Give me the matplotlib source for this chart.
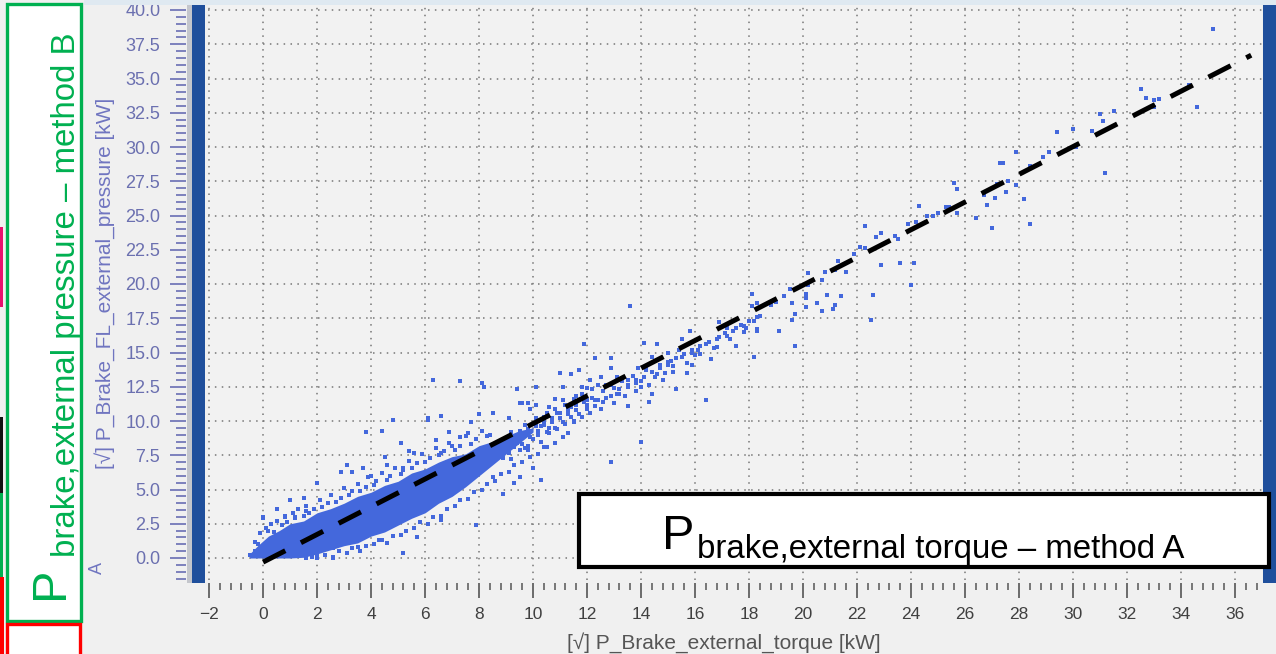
import matplotlib
matplotlib.use("Agg")
import matplotlib.pyplot as plt
from matplotlib.patches import Rectangle
from matplotlib.ticker import MultipleLocator, FormatStrFormatter
import numpy as np

plt.rcParams['font.family'] = ['Liberation Sans', 'DejaVu Sans']

# dense core of the cloud (envelope)
core_x = [-0.5, -0.2, 0.2, 0.6, 1.0, 1.5, 2.0, 2.5, 3.0, 3.5, 4.0, 4.5, 5.0, 5.5, 6.0, 6.5,
          7.0, 7.5, 8.0, 8.5, 9.0, 9.5, 10.0]
core_hi = [0.3, 0.9, 1.6, 2.0, 2.5, 2.7, 3.3, 3.6, 4.0, 4.5, 4.8, 5.3, 5.6, 6.2, 6.5, 7.0,
           7.4, 7.6, 8.2, 8.5, 8.9, 9.3, 9.5]
core_lo = [0.0, 0.0, 0.0, 0.0, 0.0, 0.05, 0.3, 0.6, 0.9, 1.1, 1.6, 1.9, 2.4, 2.9, 3.3, 4.0,
           4.5, 5.2, 6.0, 6.8, 7.6, 8.4, 9.2]

# scattered points
pts_x = [35.2, 33.0, 33.0, 33.2, 34.3, 34.6, 32.5, 32.7, 31.0, 31.5, 31.1, 31.2, 30.7, 30.0,
         30.1, 29.4, 29.1, 28.9, 28.4, 27.9, 27.4, 27.3, 27.6, 27.9, 27.5, 27.2, 27.1, 28.2,
         28.4, 26.7, 26.8, 26.4, 27.0, 25.6, 25.7, 25.4, 25.7, 25.3, 25.0, 24.8, 24.6, 24.3,
         24.2, 23.9, 23.4, 23.5, 22.9, 22.7, 22.3, 22.3, 22.1, 21.9, 23.6, 24.1, 22.9, 24.0,
         22.6, 22.5, 21.6, 21.3, 21.2, 20.8, 20.7, 20.9, 21.4, 21.2, 20.7, 21.1, 20.2, 20.1,
         20.1, 20.5, 19.7, 19.6, 19.5, 19.3, 19.0, 18.8, 18.4, 18.2, 18.1, 18.3,
         20.2, 20.1, 19.6, 19.7, 19.1, 18.3, 18.2, 18.1, 18.3, 17.8, 17.5, 17.2, 16.9, 16.6,
         16.4, 16.8, 16.1, 15.9, 15.7, 15.8, 15.5, 15.4, 15.0, 15.0, 15.3, 14.8, 14.6, 14.4,
         14.2, 14.1, 14.0, 14.3, 14.4, 14.0, 13.9, 13.6, 13.5, 13.5, 13.3, 13.1, 12.9, 12.9,
         13.0, 12.7, 12.5, 12.4, 12.3, 12.1, 12.0, 12.0, 11.9, 11.7, 11.8, 11.6, 11.4, 11.4,
         11.3, 11.0, 11.1, 11.1, 10.9, 10.8, 10.7, 10.6, 10.4, 10.3, 10.1, 10.1, 9.9, 9.8,
         9.6, 9.4, 9.1, 8.1, 8.2, 7.7, 6.6, 6.3, 6.1, 5.1, 8.5, 8.0, 8.4, 7.3, 12.9,
         5.2, 6.6, 7.9, 3.8, 4.4, 6.6, 6.1, 4.8, 7.7, 8.5, 9.5, 2.9, 3.3, 3.7, 1.5, 0.0, 0.8,
         8.9, 10.3, 9.3, 9.1, 8.2, 7.0, 5.2, 5.1, 5.6, 6.6, 6.9, 7.3, 6.3, 6.1, 5.7, 4.4, 3.5,
         2.6, 2.4, 5.7, 8.5, 9.5, 10.0, 9.8, 10.4,
         8.0, 8.3, 8.6, 8.9, 9.2, 9.5, 9.8, 10.1, 10.4, 10.7, 11.0, 11.3, 11.6, 11.9, 12.2,
         8.1, 8.4, 8.7, 9.0, 9.3, 9.6, 9.9, 10.2, 10.5, 10.8, 11.1, 11.4, 11.7, 12.0, 12.3,
         12.6, 12.9, 13.2, 13.5, 13.8, 14.1, 14.4, 14.7, 15.0, 15.3, 15.6, 15.9, 16.2, 16.5,
         16.8, 17.1, 17.4, 17.7, 18.0, 18.3,
         -0.5, -0.3, -0.2, 0.2, 1.2, 1.6, 2.0, 4.0, 4.6, 5.4, 6.4, 7.0, 7.6, 9.2, 9.7, 10.6,
         11.5, 12.4, 13.2, 13.8, 14.6, 15.2, 16.0, 16.7, 17.3, 17.9]
pts_y = [38.6, 33.4, 32.9, 33.5, 34.5, 32.9, 34.2, 33.6, 32.4, 32.6, 31.9, 28.1, 31.2, 31.3,
         30.0, 31.1, 29.6, 29.3, 28.6, 29.6, 28.8, 28.8, 27.5, 27.2, 26.7, 27.3, 26.3, 26.2,
         24.4, 26.5, 25.8, 24.8, 24.1, 27.4, 26.9, 25.6, 25.2, 25.6, 25.2, 25.0, 25.0, 25.7,
         24.5, 24.4, 23.5, 23.3, 23.7, 23.4, 24.2, 22.6, 22.7, 22.2, 21.5, 21.5, 21.4, 19.9,
         19.2, 17.4, 20.9, 21.7, 21.0, 20.9, 20.3, 19.2, 19.1, 18.5, 18.0, 18.2, 19.9, 19.0,
         18.3, 18.6, 17.8, 17.4, 19.6, 19.1, 18.7, 18.5, 17.7, 17.3, 18.4, 16.7,
         20.8, 19.3, 18.6, 15.5, 16.6, 16.6, 14.7, 19.3, 18.6, 16.5, 15.5, 16.8, 17.2, 14.5,
         11.5, 15.4, 15.2, 14.1, 13.5, 16.6, 16.0, 15.2, 15.0, 14.1, 12.3, 13.0, 15.6, 14.7,
         13.9, 15.7, 12.5, 11.4, 12.0, 8.5, 13.9, 18.4, 13.0, 11.1, 13.1, 13.2, 13.9, 14.6,
         12.4, 12.6, 13.2, 12.6, 14.6, 13.0, 12.4, 11.5, 15.6, 13.7, 12.5, 11.8, 13.4, 11.0,
         9.1, 13.5, 12.5, 11.5, 10.6, 11.6, 9.9, 11.0, 10.3, 9.6, 12.5, 11.2, 10.9, 11.3,
         11.3, 12.3, 10.2, 12.8, 12.5, 9.9, 10.4, 13.0, 10.1, 8.4, 10.6, 10.5, 9.0, 12.9, 7.0,
         0.4, 2.8, 2.4, 9.2, 9.3, 10.4, 10.2, 10.1, 9.9, 10.6, 11.3, 6.3, 6.3, 6.6, 4.4, 3.0, 3.1,
         4.7, 5.7, 5.5, 7.9, 6.9, 4.7, 6.6, 8.4, 7.7, 7.7, 9.2, 8.8, 6.2, 3.7, 1.5, 1.3, 0.8,
         0.7, 1.5, 4.5, 5.9, 5.9, 6.6, 7.9, 8.1,
         7.7, 8.1, 8.2, 8.6, 8.8, 9.3, 9.4, 9.6, 10.0, 10.2, 10.6, 10.8, 11.2, 11.4, 11.7,
         6.9, 7.3, 7.5, 7.8, 8.1, 8.3, 8.8, 9.0, 9.2, 9.5, 9.9, 10.3, 10.5, 10.9, 11.1,
         11.4, 11.8, 12.3, 12.6, 13.0, 13.2, 13.6, 13.9, 14.3, 14.6, 14.9, 15.2, 15.5, 15.8,
         16.0, 16.4, 16.6, 17.0, 17.3, 17.6,
         0.2, 0.5, 1.0, 2.0, 3.0, 3.4, 0.2, 6.0, 6.8, 7.8, 8.6, 8.2, 9.1, 7.2, 8.0, 9.5,
         10.0, 11.5, 12.0, 12.8, 13.4, 14.0, 14.8, 15.3, 16.0, 16.8]

# points hugging the edges of the dense core and the stream above it
edge_x = [-0.3, -0.1, 0.0, 0.1, 0.3, 0.4, 0.5, 0.7, 0.8, 0.9, 1.1, 1.2, 1.3, 1.5, 1.6, 1.7,
          1.9, 2.1, 2.2, 2.4, 2.5, 2.7, 2.9, 3.0, 3.2, 3.3, 3.5, 3.6, 3.8, 3.9, 4.1, 4.2, 4.4,
          4.6, 4.7, 4.9, 5.1, 5.2, 5.4, 5.5, 5.7, 5.9, 6.0, 6.2, 6.4, 6.5, 6.7, 6.9, 7.1, 7.3,
          7.5, 7.7, 7.9, 8.1, 8.3,
          1.6, 1.8, 2.0, 2.3, 2.6, 2.8, 3.1, 3.3, 3.6, 3.8, 4.1, 4.3, 4.6, 4.8, 5.1, 5.3, 5.6,
          5.8, 6.1, 6.3, 6.6, 6.8, 7.1, 7.3, 7.6, 7.8, 8.1, 8.3, 8.6, 8.8, 9.1, 9.3, 9.6, 9.9,
          10.2, 10.5, 10.8, 11.1,
          8.6, 8.8, 8.9, 9.0, 9.1, 9.2, 9.4, 9.5, 9.6, 9.7, 9.8, 9.9, 10.0, 10.1, 10.2, 10.3,
          10.4, 10.5, 10.6, 10.7, 10.8, 10.9, 11.0, 11.2, 11.2, 11.3, 11.5, 11.5, 11.6, 11.8,
          11.8, 12.0, 12.1, 12.2, 12.3, 12.5, 12.6, 12.7, 12.9, 13.0, 13.1, 13.3, 13.4, 13.5,
          13.7, 13.8, 14.0, 14.2, 14.3, 14.5, 14.7, 14.9, 15.1, 15.2, 15.5, 15.7, 15.9, 16.2,
          16.4, 16.7, 16.9, 17.2, 17.5, 17.8,
          2.0, 1.0, 3.1, 4.5, 0.5, 2.6]
edge_y = [1.2, 1.8, 2.9, 2.2, 2.5, 1.9, 2.7, 2.4, 3.0, 2.6, 3.3, 2.9, 3.6, 3.1, 3.8, 3.3,
          3.6, 4.2, 3.7, 4.0, 4.6, 4.1, 4.4, 5.1, 4.6, 4.9, 5.4, 4.9, 5.2, 5.9, 5.3, 5.6, 6.2,
          5.7, 6.0, 6.6, 6.1, 6.4, 7.1, 6.6, 6.9, 7.6, 7.0, 7.3, 8.0, 7.5, 7.8, 8.4, 7.9, 8.2,
          8.9, 8.3, 8.7, 9.3, 8.9,
          0.0, 0.1, 0.0, 0.2, 0.1, 0.5, 0.4, 0.7, 0.5, 0.9, 1.0, 1.3, 1.1, 1.6, 1.7, 2.0, 2.2,
          2.6, 2.5, 3.0, 3.1, 3.6, 3.8, 4.2, 4.3, 4.8, 5.0, 5.4, 5.6, 6.1, 6.3, 6.8, 7.0, 7.4,
          7.6, 8.1, 8.4, 8.8,
          7.6, 8.0, 7.3, 8.5, 7.7, 9.2, 8.4, 7.9, 8.9, 9.7, 8.2, 9.2, 8.7, 10.2, 9.3, 8.5,
          9.7, 10.6, 9.1, 9.9, 10.9, 9.4, 10.2, 9.8, 11.2, 10.5, 9.9, 11.6, 10.8, 10.3,
          12.0, 11.2, 10.6, 12.3, 11.5, 10.9, 12.2, 11.7, 12.6, 11.3, 12.0, 12.9, 11.8, 12.5,
          13.3, 12.2, 12.9, 13.7, 12.6, 13.2, 14.1, 13.5, 14.4, 13.6, 14.7, 14.2, 15.0, 14.9,
          15.6, 15.3, 16.1, 16.2, 16.8, 16.9,
          5.5, 4.2, 6.8, 7.4, 3.6, 0.0]

# fitted dashed line
line_x = [0.0, 36.6]
line_y = [-0.3, 36.7]

xticks = [-2, 0, 2, 4, 6, 8, 10, 12, 14, 16, 18, 20, 22, 24, 26, 28, 30, 32, 34, 36]
xlabel = "[\u221a] P_Brake_external_torque [kW]"
ylabel = "[\u221a] P_Brake_FL_external_pressure [kW]"

W, H = 1276, 654
fig = plt.figure(figsize=(W / 100, H / 100), dpi=100, facecolor="#f0f0f0")


def fx(x):
    return x / W


def fy(y):
    return 1 - y / H


# plot area in pixels: x 208..1262, y 5..580
ax = fig.add_axes([fx(208), fy(580), (1262 - 208) / W, (580 - 5) / H])
ax.set_facecolor("#f2f2f2")
ax.set_xlim(-2.04, 37.0)
ax.set_ylim((558 - 580) / 13.7, (558 - 5) / 13.7)

blue = "#4468dc"
ax.fill_between(core_x, core_lo, core_hi, color=blue, lw=0, zorder=2)
ax.scatter(pts_x, pts_y, s=6, marker="s", color=blue, lw=0, zorder=3)
ax.scatter(edge_x, edge_y, s=6, marker="s", color=blue, lw=0, zorder=3)
ax.plot(line_x, line_y, color="black", lw=3.6, ls=(0, (5, 3.5)),
        solid_capstyle="butt", dash_capstyle="butt", zorder=4)

ax.set_xticks(xticks)
ax.xaxis.set_minor_locator(MultipleLocator(0.4))
ax.yaxis.set_major_locator(MultipleLocator(2.5))
ax.yaxis.set_minor_locator(MultipleLocator(0.5))
ax.yaxis.set_major_formatter(FormatStrFormatter("%.1f"))
ax.grid(True, which="major", color="#777777", ls=(0, (1, 3.5)), lw=1.1)

for s in ["top", "right"]:
    ax.spines[s].set_visible(False)
ax.spines["left"].set_position(("outward", 15.8))
ax.spines["bottom"].set_position(("outward", 2.2))
ax.spines["left"].set_color("none")
ax.spines["bottom"].set_color("none")

ax.tick_params(axis="x", which="major", length=10.5, width=1.2, color="#555555",
               labelsize=12.5, labelcolor="#404040", pad=7)
ax.tick_params(axis="x", which="minor", length=5, width=1.1, color="#555555")
ax.tick_params(axis="y", which="major", length=11.5, width=1.3, color="#7378b8",
               labelsize=13, labelcolor="#6b70b0", pad=7)
ax.tick_params(axis="y", which="minor", length=7, width=1.3, color="#7378b8")

# axis labels, drawn as figure text
fig.text(fx(724), fy(643), xlabel, ha="center", va="center", fontsize=15, color="#555555")
fig.text(fx(105), fy(283), ylabel, rotation=90, ha="center", va="center",
         fontsize=15, color="#7075c0")
fig.text(fx(97), fy(568), "A", rotation=90, ha="center", va="center",
         fontsize=13, color="#7075c0")

# blue side bars and top strip
fig.patches.append(Rectangle((fx(187), fy(583)), 5 / W, 583 / H, transform=fig.transFigure,
                             facecolor="#c4c6cc", lw=0))
fig.patches.append(Rectangle((fx(192), fy(583)), 13 / W, 583 / H, transform=fig.transFigure,
                             facecolor="#1f4f9c", lw=0))
fig.patches.append(Rectangle((fx(1263), fy(583)), 13 / W, 583 / H, transform=fig.transFigure,
                             facecolor="#1f4f9c", lw=0))
fig.patches.append(Rectangle((fx(84), fy(5)), (1276 - 84) / W, 5 / H, transform=fig.transFigure,
                             facecolor="#dfe9f1", lw=0))

# green annotation box (method B)
fig.patches.append(Rectangle((fx(7), fy(621)), 74 / W, 617 / H, transform=fig.transFigure,
                             facecolor="white", edgecolor="#00b050", lw=2.4, zorder=5))
fig.text(fx(63), fy(599), "P", rotation=90, rotation_mode="anchor", ha="left", va="baseline",
         fontsize=35, color="#00b050", zorder=6)
fig.text(fx(75), fy(557), "brake,external pressure \u2013 method B", rotation=90,
         rotation_mode="anchor", ha="left", va="baseline", fontsize=23.8, color="#00b050",
         zorder=6)

# red box and edge marks on the far left
fig.patches.append(Rectangle((fx(7), fy(670)), 73 / W, 46 / H, transform=fig.transFigure,
                             facecolor="white", edgecolor="#ff0000", lw=2.4, zorder=5))
fig.patches.append(Rectangle((0, fy(654)), 4 / W, 77 / H, transform=fig.transFigure,
                             facecolor="#ff0000", lw=0, zorder=5))
fig.patches.append(Rectangle((0, fy(307)), 3 / W, 80 / H, transform=fig.transFigure,
                             facecolor="#e8106e", lw=0, zorder=5))
fig.patches.append(Rectangle((0, fy(493)), 3 / W, 76 / H, transform=fig.transFigure,
                             facecolor="#111111", lw=0, zorder=5))
fig.patches.append(Rectangle((0, fy(577)), 3 / W, 84 / H, transform=fig.transFigure,
                             facecolor="#00b050", lw=0, zorder=5))

# black annotation box (method A)
fig.patches.append(Rectangle((fx(579), fy(567)), 690 / W, 73 / H, transform=fig.transFigure,
                             facecolor="white", edgecolor="black", lw=3.0, zorder=5))
fig.text(fx(662), fy(549), "P", ha="left", va="baseline", fontsize=35, color="black", zorder=6)
fig.text(fx(697), fy(558), "brake,external torque \u2013 method A", ha="left", va="baseline",
         fontsize=23.8, color="black", zorder=6)

fig.savefig("out.png", dpi=100, facecolor=fig.get_facecolor())
